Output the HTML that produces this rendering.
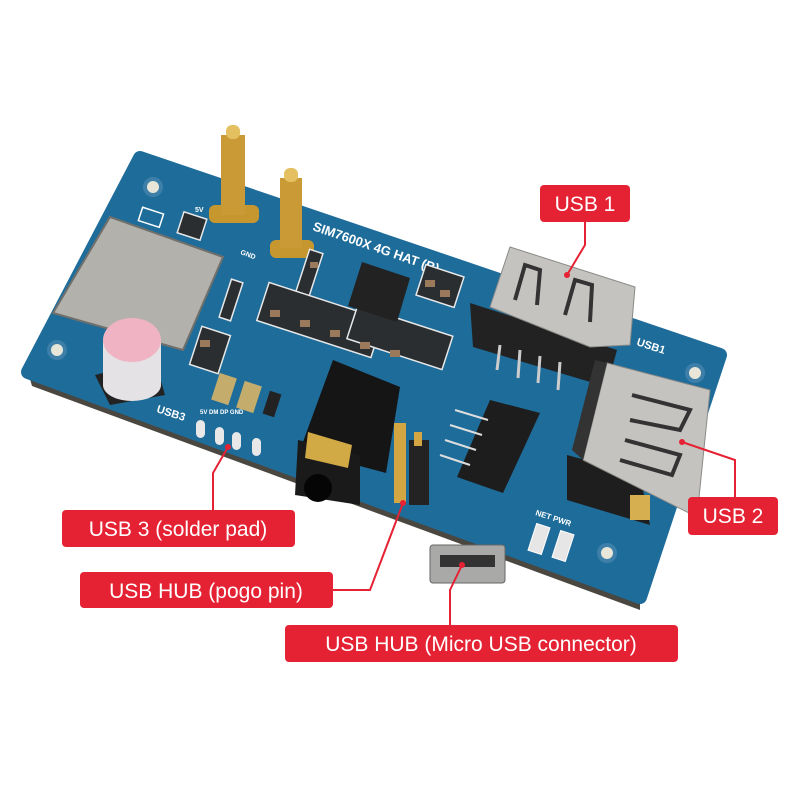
<!DOCTYPE html>
<html><head><meta charset="utf-8"><style>
body{margin:0;background:#fff}
svg{display:block}
.l{font-family:"Liberation Sans",sans-serif;font-size:21px;fill:#fff}
.s{font-family:"Liberation Sans",sans-serif;font-weight:bold;fill:#fff}
</style></head><body>
<svg width="800" height="800" viewBox="0 0 800 800" xmlns="http://www.w3.org/2000/svg">
<rect width="800" height="800" fill="#fff"/>
<!-- board thickness -->
<polygon points="28,372 640,597 640,610 32,386" fill="#4a4640"/>
<!-- board -->
<polygon points="140,158 720,355 640,597 28,372" fill="#1e6c9a" stroke="#1e6c9a" stroke-width="14" stroke-linejoin="round"/>
<!-- holes -->
<g fill="#e8e6d8" stroke="#3d7fa8" stroke-width="4">
<circle cx="153" cy="187" r="8"/><circle cx="57" cy="350" r="8"/><circle cx="607" cy="553" r="8"/><circle cx="695" cy="373" r="8"/>
</g>
<!-- SIM holder -->
<polygon points="110,217 223,257 183,350 53,313" fill="#b3b1ab" stroke="#6f6f6c" stroke-width="2"/>
<rect x="140" y="210" width="22" height="14" fill="#1e6c9a" stroke="#fff" stroke-width="1.5" transform="rotate(18 150 217)"/>
<!-- capacitor -->
<polygon points="95,375 155,360 165,395 110,405" fill="#222"/>
<rect x="103" y="340" width="58" height="45" fill="#e4e2e4"/>
<ellipse cx="132" cy="385" rx="29" ry="16" fill="#e4e2e4"/>
<ellipse cx="132" cy="340" rx="29" ry="22" fill="#efb3c3"/>
<!-- pogo pins top -->
<rect x="209" y="205" width="50" height="18" rx="6" fill="#c6962f"/>
<rect x="221" y="135" width="24" height="80" fill="#c99a35"/><rect x="226" y="125" width="14" height="14" rx="6" fill="#e4c060"/>
<rect x="270" y="240" width="44" height="18" rx="6" fill="#c6962f"/>
<rect x="280" y="178" width="22" height="70" fill="#c99a35"/><rect x="284" y="168" width="14" height="14" rx="6" fill="#e4c060"/>
<text x="312" y="230" class="s" font-size="13" transform="rotate(19 312 230)">SIM7600X 4G HAT (B)</text>
<text x="195" y="212" class="s" font-size="7">5V</text>
<text x="240" y="254" class="s" font-size="7" transform="rotate(20 240 254)">GND</text>
<!-- passives -->
<g fill="#2a2e30" stroke="#e8e8e8" stroke-width="1.5">
<rect x="180" y="215" width="24" height="22" transform="rotate(18 192 226)"/>
<rect x="225" y="280" width="12" height="40" transform="rotate(18 231 300)"/>
<rect x="300" y="250" width="14" height="60" transform="rotate(18 307 280)"/>
<rect x="420" y="270" width="40" height="32" transform="rotate(18 440 286)"/>
<rect x="260" y="300" width="120" height="40" transform="rotate(18 320 320)"/>
<rect x="350" y="320" width="100" height="35" transform="rotate(18 400 337)"/>
<rect x="195" y="330" width="30" height="40" transform="rotate(18 210 350)"/>
</g>
<g fill="#9a7a5a"><rect x="270" y="310" width="10" height="7"/><rect x="300" y="320" width="10" height="7"/><rect x="330" y="330" width="10" height="7"/><rect x="360" y="342" width="10" height="7"/><rect x="390" y="350" width="10" height="7"/><rect x="425" y="280" width="10" height="7"/><rect x="440" y="290" width="10" height="7"/><rect x="200" y="340" width="10" height="7"/><rect x="310" y="262" width="8" height="6"/></g>
<!-- QFN chip -->
<polygon points="362,262 410,278 397,322 348,306" fill="#222"/>
<!-- tantalum caps -->
<rect x="215" y="375" width="18" height="28" fill="#c4ac6c" transform="rotate(18 224 389)"/>
<rect x="240" y="383" width="18" height="28" fill="#c4ac6c" transform="rotate(18 249 397)"/>
<rect x="266" y="392" width="12" height="24" fill="#222" transform="rotate(18 272 404)"/>
<!-- audio jack -->
<polygon points="333,360 400,387 386,473 300,450" fill="#151515"/>
<polygon points="298,440 360,455 360,505 295,495" fill="#1a1a1a"/>
<polygon points="308,432 352,445 348,468 305,458" fill="#d2aa45"/>
<circle cx="318" cy="488" r="14" fill="#050505"/>
<!-- small pogo pins -->
<rect x="394" y="423" width="12" height="80" fill="#d3a642"/><rect x="409" y="440" width="20" height="65" fill="#232323"/><rect x="414" y="432" width="8" height="14" fill="#d3a642"/>
<!-- pads USB3 -->
<g fill="#e8e8e8"><rect x="196" y="420" width="9" height="18" rx="4.5"/><rect x="215" y="427" width="9" height="18" rx="4.5"/><rect x="232" y="432" width="9" height="18" rx="4.5"/><rect x="252" y="438" width="9" height="18" rx="4.5"/></g>
<text x="156" y="412" class="s" font-size="11" transform="rotate(18 156 412)">USB3</text>
<text x="200" y="414" class="s" font-size="6">5V  DM  DP  GND</text>
<!-- big chip -->
<polygon points="490,400 540,413 503,493 457,477" fill="#1d1d1d"/>
<g stroke="#ddd" stroke-width="2"><line x1="455" y1="410" x2="488" y2="420"/><line x1="450" y1="425" x2="482" y2="435"/><line x1="445" y1="440" x2="476" y2="450"/><line x1="440" y1="455" x2="470" y2="465"/></g>
<!-- USB1 -->
<polygon points="470,303 617,350 607,387 473,347" fill="#222"/>
<g stroke="#ccc" stroke-width="3"><line x1="500" y1="345" x2="497" y2="370"/><line x1="520" y1="350" x2="518" y2="378"/><line x1="540" y1="356" x2="538" y2="383"/><line x1="560" y1="362" x2="558" y2="390"/></g>
<polygon points="510,247 635,287 630,345 590,347 490,307" fill="#c4c3bf" stroke="#8a8a88"/>
<g fill="none" stroke="#333" stroke-width="4"><path d="M515,300 L525,265 L540,270 L537,305"/><path d="M565,315 L575,280 L592,285 L590,322"/></g>
<!-- USB2 -->
<polygon points="567,455 640,475 650,525 567,500" fill="#1e1e1e"/>
<polygon points="607,363 710,390 697,517 583,460" fill="#c4c3bf" stroke="#8a8a88"/>
<polygon points="583,460 607,363 595,360 572,450" fill="#333"/>
<g fill="none" stroke="#333" stroke-width="4"><path d="M632,395 L690,410 L680,430 L630,420"/><path d="M625,440 L680,455 L672,475 L620,460"/></g>
<rect x="630" y="495" width="20" height="25" fill="#d6b050"/>
<text x="636" y="345" class="s" font-size="11" transform="rotate(18 636 345)">USB1</text>
<!-- LEDs -->
<text x="535" y="515" class="s" font-size="8" transform="rotate(18 535 515)">NET PWR</text>
<rect x="532" y="525" width="14" height="28" fill="#e6e6e6" stroke="#fff" transform="rotate(18 539 539)"/>
<rect x="556" y="532" width="14" height="28" fill="#e6e6e6" stroke="#fff" transform="rotate(18 563 546)"/>
<!-- micro USB -->
<rect x="430" y="545" width="75" height="38" rx="3" fill="#a9a9a7" stroke="#666"/>
<rect x="440" y="555" width="55" height="12" fill="#333"/>
<!-- leader lines -->
<g stroke="#e52233" stroke-width="2" fill="none">
<polyline points="585,222 585,245 567,275"/>
<polyline points="682,442 735,460 735,497"/>
<polyline points="228,447 213,473 213,510"/>
<polyline points="333,590 370,590 403,503"/>
<polyline points="450,625 450,590 462,565"/>
</g>
<g fill="#e52233"><circle cx="567" cy="275" r="3"/><circle cx="682" cy="442" r="3"/><circle cx="228" cy="447" r="3"/><circle cx="403" cy="503" r="3"/><circle cx="462" cy="565" r="3"/></g>
<!-- labels -->
<rect x="540" y="185" width="90" height="37" rx="4" fill="#e52233"/><text class="l" x="585" y="211" text-anchor="middle">USB 1</text>
<rect x="688" y="497" width="90" height="38" rx="4" fill="#e52233"/><text class="l" x="733" y="523" text-anchor="middle">USB 2</text>
<rect x="62" y="510" width="233" height="37" rx="4" fill="#e52233"/><text class="l" x="178" y="536" text-anchor="middle">USB 3 (solder pad)</text>
<rect x="80" y="572" width="253" height="36" rx="4" fill="#e52233"/><text class="l" x="206" y="598" text-anchor="middle">USB HUB (pogo pin)</text>
<rect x="285" y="625" width="393" height="37" rx="4" fill="#e52233"/><text class="l" x="481" y="651" text-anchor="middle">USB HUB (Micro USB connector)</text>
</svg>
</body></html>
